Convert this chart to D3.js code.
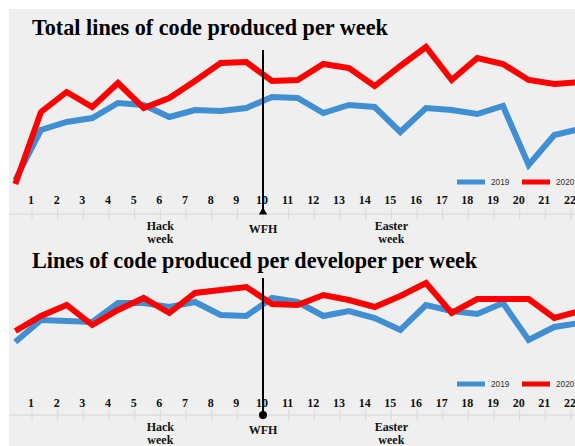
<!DOCTYPE html>
<html>
<head>
<meta charset="utf-8">
<script src="https://cdn.jsdelivr.net/npm/d3@7"></script>
<style>
  body { margin: 0; background: #fff; }
  .tick-label { font-family: "Liberation Serif", serif; font-weight: bold; font-size: 12px; fill: #111; }
  .note { font-family: "Liberation Serif", serif; font-weight: bold; font-size: 12px; fill: #111; }
  .title { font-family: "Liberation Serif", serif; font-weight: bold; font-size: 22.2px; fill: #000; }
  .legend-label { font-family: "Liberation Sans", Arial, sans-serif; font-size: 8.3px; fill: #333; }
</style>
</head>
<body>
<div id="d3-container"></div>
<script>
/* CONSTANTS AND GLOBALS */
const width = 575,
  height = 446,
  colors = { "2019": "#3f8fd2", "2020": "#ff0000" };

// week numbers shown on the axis
const weekTicks = d3.range(1, 23);
// one point per week, weeks 0..22
const weekIndex = [0, 1, 2, 3, 4, 5, 6, 7, 8, 9, 10, 11, 12, 13, 14, 15, 16, 17, 18, 19, 20, 21, 22];

// total lines of code per week (thousands)
const total2019 = [20, 70, 78, 82, 97, 95, 83, 90, 89, 92, 103, 102, 87, 95, 93, 68, 92, 90, 86, 94, 35, 65, 71];
const total2020 = [16, 88, 108, 93, 117, 92, 102, 119, 137, 138, 119, 120, 136, 132, 114, 134, 153, 120, 142, 136, 120, 116, 118];

// lines of code per developer per week
const perDev2019 = [58, 80, 79, 78, 97, 97, 93, 98, 85, 84, 102, 98, 84, 89, 82, 70, 95, 89, 86, 97, 60, 73, 77];
const perDev2020 = [69, 84, 95, 75, 90, 102, 87, 107, 110, 113, 96, 95, 105, 100, 93, 104, 117, 87, 101, 101, 101, 82, 89];

const notes = [
  { week: 6, lines: ["Hack", "week"] },
  { week: 10, lines: ["WFH"] },
  { week: 15, lines: ["Easter", "week"] },
];
const wfhWeek = 10;

let svg;
let xScale;

function init() {
  svg = d3.select("#d3-container")
    .append("svg")
    .attr("width", width)
    .attr("height", height);

  svg.append("rect")
    .attr("x", 9).attr("y", 9)
    .attr("width", width - 9).attr("height", height - 9)
    .attr("fill", "#efefef");

  xScale = d3.scaleLinear().domain([1, 22]).range([32, 571]);

  draw({
    title: "Total lines of code produced per week",
    titleY: 35,
    s2019: total2019,
    s2020: total2020,
    yRange: [200, 40],
    axisY: 214,
    labelY: 204,
    legendY: 182,
    wfhTop: 50,
    marker: "triangle",
    noteY: 230,
  });

  draw({
    title: "Lines of code produced per developer per week",
    titleY: 268,
    s2019: perDev2019,
    s2020: perDev2020,
    yRange: [400, 240],
    axisY: 415,
    labelY: 407,
    legendY: 384,
    wfhTop: 278,
    marker: "circle",
    noteY: 431,
  });
}

function draw(p) {
  const g = svg.append("g");
  const yScale = d3.scaleLinear().domain([0, 160]).range(p.yRange);

  // axis line + ticks
  g.append("line")
    .attr("x1", 9).attr("x2", width)
    .attr("y1", p.axisY).attr("y2", p.axisY)
    .attr("stroke", "#d6d6d6");
  g.selectAll("line.tick")
    .data(weekTicks)
    .join("line")
    .attr("class", "tick")
    .attr("x1", d => xScale(d)).attr("x2", d => xScale(d))
    .attr("y1", p.axisY - 6).attr("y2", p.axisY + 6)
    .attr("stroke", "#dadada");
  g.selectAll("text.tick-label")
    .data(weekTicks)
    .join("text")
    .attr("class", "tick-label")
    .attr("x", d => xScale(d) - 1)
    .attr("y", p.labelY)
    .attr("text-anchor", "middle")
    .text(d => d);

  // lines
  const lineFunc = d3.line()
    .x((d, i) => xScale(weekIndex[i] + 0.35))
    .y(d => yScale(d));

  [["2019", p.s2019], ["2020", p.s2020]].forEach(([year, values]) => {
    g.append("path")
      .datum(values)
      .attr("fill", "none")
      .attr("stroke", colors[year])
      .attr("stroke-width", 6)
      .attr("stroke-linejoin", "miter")
      .attr("d", lineFunc);
  });

  // title
  g.append("text")
    .attr("class", "title")
    .attr("x", 32)
    .attr("y", p.titleY)
    .text(p.title);

  // legend
  const legend = g.selectAll("g.legend")
    .data(["2019", "2020"])
    .join("g")
    .attr("class", "legend")
    .attr("transform", (d, i) => `translate(${457 + i * 65},${p.legendY})`);
  legend.append("line")
    .attr("x1", 0).attr("x2", 28)
    .attr("stroke", d => colors[d])
    .attr("stroke-width", 5);
  legend.append("text")
    .attr("class", "legend-label")
    .attr("x", 34)
    .attr("y", 3)
    .text(d => d);

  // WFH marker
  const wx = xScale(wfhWeek);
  g.append("line")
    .attr("x1", wx).attr("x2", wx)
    .attr("y1", p.wfhTop).attr("y2", p.axisY)
    .attr("stroke", "#000")
    .attr("stroke-width", 2);
  if (p.marker === "triangle") {
    g.append("path")
      .attr("d", d3.symbol(d3.symbolTriangle, 30)())
      .attr("transform", `translate(${wx},${p.axisY - 2})`)
      .attr("fill", "#000");
  } else {
    g.append("circle")
      .attr("cx", wx).attr("cy", p.axisY)
      .attr("r", 4)
      .attr("fill", "#000");
  }

  // notes under the axis
  const note = g.selectAll("text.note")
    .data(notes)
    .join("text")
    .attr("class", "note")
    .attr("text-anchor", "middle")
    .attr("x", d => xScale(d.week))
    .attr("y", d => p.noteY + (d.lines.length === 1 ? 3 : 0));
  note.selectAll("tspan")
    .data(d => d.lines)
    .join("tspan")
    .attr("x", function() { return d3.select(this.parentNode).attr("x"); })
    .attr("dy", (d, i) => i === 0 ? 0 : 12.5)
    .text(d => d);
}

init();
</script>
</body>
</html>
